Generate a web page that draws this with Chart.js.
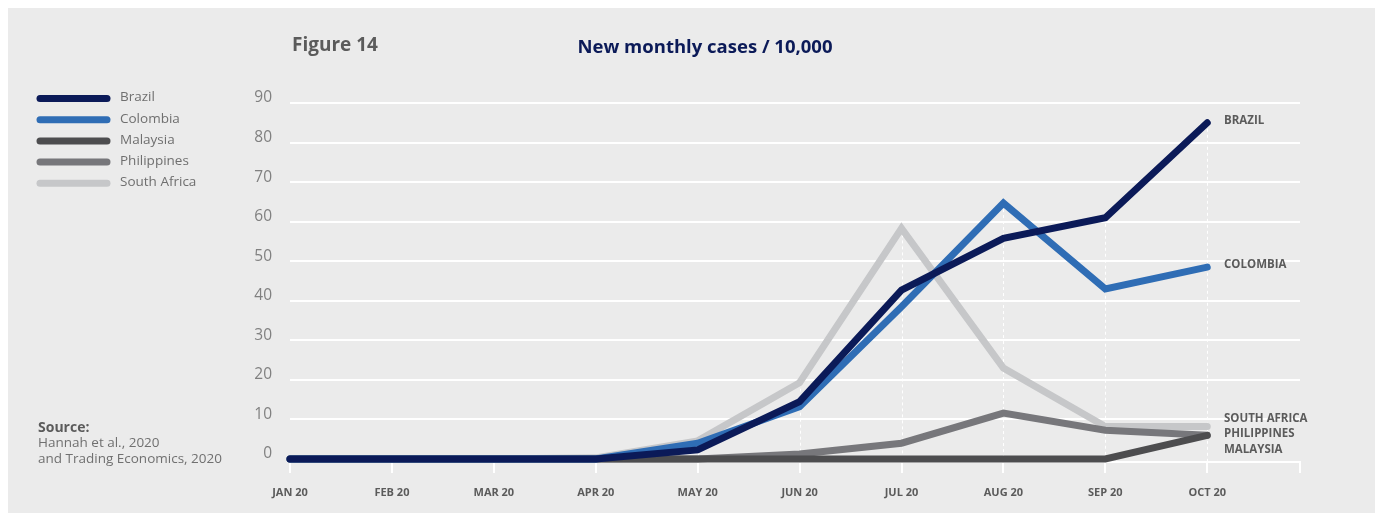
<!DOCTYPE html>
<html>
<head>
<meta charset="utf-8">
<title>New monthly cases / 10,000</title>
<script src="https://cdn.jsdelivr.net/npm/chart.js@4/dist/chart.umd.min.js"></script>
<style>
    html, body { margin: 0; padding: 0; background: #ffffff; }
    canvas { display: block; }
</style>
</head>
<body>
<canvas id="casesChart" width="1375" height="527"></canvas>
<script>
// Monthly labels and y ticks
const months = ['JAN 20', 'FEB 20', 'MAR 20', 'APR 20', 'MAY 20', 'JUN 20', 'JUL 20', 'AUG 20', 'SEP 20', 'OCT 20'];
const yTicks = [0, 10, 20, 30, 40, 50, 60, 70, 80, 90];

// New monthly cases per 10,000 inhabitants
const brazil      = [0, 0, 0, 0, 2.3, 14.5, 42.7, 55.8, 61, 85];
const colombia    = [0, 0, 0, 0, 4, 13.2, 38.5, 64.7, 43, 48.5];
const malaysia    = [0, 0, 0, 0, 0, 0, 0, 0, 0, 6];
const philippines = [0, 0, 0, 0, 0, 1.3, 4, 11.6, 7.3, 6];
const southAfrica = [0, 0, 0, 0.3, 4.6, 19.3, 58.3, 23, 8.2, 8.2];

const countries = ['Brazil', 'Colombia', 'Malaysia', 'Philippines', 'South Africa'];
const colors = ['#0b1a58', '#2f6db5', '#4d4d4f', '#77777b', '#c6c7c9'];

const TEXT_GREY = '#5b5b5b';
const NAVY = '#0b1a58';

Chart.defaults.font.family = "'Open Sans', 'Noto Sans', sans-serif";

// Panel background, titles, legend and source note
const decorPlugin = {
    id: 'decor',
    beforeDraw(chart) {
        const c = chart.ctx;
        c.save();
        c.fillStyle = '#ffffff';
        c.fillRect(0, 0, chart.width, chart.height);
        c.fillStyle = '#ebebeb';
        c.fillRect(8, 8, chart.width - 8, 505);
        c.restore();
    },
    afterDraw(chart) {
        const c = chart.ctx;
        c.save();
        c.textBaseline = 'middle';

        c.fillStyle = TEXT_GREY;
        c.font = "bold 19px 'Open Sans', sans-serif";
        c.textAlign = 'left';
        c.fillText('Figure 14', 292, 46);

        c.fillStyle = NAVY;
        c.font = "bold 18.5px 'Open Sans', sans-serif";
        c.textAlign = 'center';
        c.fillText('New monthly cases / 10,000', 705, 48);

        // legend
        c.textAlign = 'left';
        chart.data.datasets.forEach((ds, i) => {
            const y = 98.5 + i * 21.2;
            c.strokeStyle = ds.borderColor;
            c.lineWidth = 7;
            c.lineCap = 'round';
            c.beginPath();
            c.moveTo(40, y);
            c.lineTo(107, y);
            c.stroke();
            c.fillStyle = '#6f6f6f';
            c.font = "13.5px 'Open Sans', sans-serif";
            c.fillText(ds.label, 120, y - 1);
        });

        // source note
        c.fillStyle = TEXT_GREY;
        c.font = "bold 14px 'Open Sans', sans-serif";
        c.fillText('Source:', 38, 428);
        c.fillStyle = '#707070';
        c.font = "13.5px 'Open Sans', sans-serif";
        c.fillText('Hannah et al., 2020', 38, 443);
        c.fillText('and Trading Economics, 2020', 38, 459);

        // end-of-line country labels
        const ys = chart.scales.y;
        const last = months.length - 1;
        c.fillStyle = TEXT_GREY;
        c.font = "bold 11.5px 'Open Sans', sans-serif";
        c.fillText('BRAZIL', 1224, ys.getPixelForValue(brazil[last]) - 2);
        c.fillText('COLOMBIA', 1224, ys.getPixelForValue(colombia[last]) - 2);
        const yLow = ys.getPixelForValue(southAfrica[last]) - 8;
        ['SOUTH AFRICA', 'PHILIPPINES', 'MALAYSIA'].forEach((t, k) => {
            c.fillText(t, 1224, yLow + k * 15.5);
        });
        c.restore();
    }
};

// Dashed drop lines from the highest point of each month down to the axis
const dropLinePlugin = {
    id: 'dropLines',
    beforeDatasetsDraw(chart) {
        const c = chart.ctx;
        const xs = chart.scales.x, ys = chart.scales.y;
        c.save();
        c.strokeStyle = '#ffffff';
        c.lineWidth = 1;
        c.setLineDash([3, 3]);
        months.forEach((m, i) => {
            const top = Math.max(...chart.data.datasets.map(d => d.data[i].y));
            const x = Math.round(xs.getPixelForValue(i)) + 0.5;
            c.beginPath();
            c.moveTo(x, ys.getPixelForValue(top));
            c.lineTo(x, chart.chartArea.bottom);
            c.stroke();
        });
        c.restore();
    }
};

const series = [brazil, colombia, malaysia, philippines, southAfrica];

new Chart(document.getElementById('casesChart'), {
    type: 'line',
    data: {
        datasets: series.map((vals, i) => ({
            label: countries[i],
            data: vals.map((v, k) => ({ x: k, y: v })),
            borderColor: colors[i],
            backgroundColor: colors[i],
            borderWidth: 7,
            borderCapStyle: 'round',
            borderJoinStyle: 'miter',
            pointRadius: 0,
            tension: 0,
            clip: false
        }))
    },
    options: {
        responsive: false,
        animation: false,
        events: [],
        layout: { padding: { left: 0, right: 75, top: 103, bottom: 0 } },
        plugins: {
            legend: { display: false },
            tooltip: { enabled: false }
        },
        scales: {
            x: {
                type: 'linear',
                min: 0,
                max: 9.91,
                afterBuildTicks(scale) {
                    scale.ticks = months.map((m, i) => ({ value: i })).concat([{ value: 9.91 }]);
                },
                afterFit(scale) { scale.height = 65; },
                grid: {
                    drawOnChartArea: false,
                    drawTicks: true,
                    tickLength: 11,
                    color: '#ffffff',
                    lineWidth: 2
                },
                border: { display: true, color: '#ffffff', width: 2 },
                ticks: {
                    autoSkip: false,
                    maxRotation: 0,
                    padding: 13,
                    color: TEXT_GREY,
                    font: { size: 11, weight: 'bold' },
                    callback: (v) => months[v] || ''
                }
            },
            y: {
                min: -0.75,
                max: 90,
                afterBuildTicks(scale) {
                    scale.ticks = yTicks.map(v => ({ value: v }));
                },
                afterFit(scale) { scale.width = 290; },
                grid: {
                    drawTicks: false,
                    color: (ctx) => ctx.tick && ctx.tick.value === 0 ? 'rgba(0,0,0,0)' : '#ffffff',
                    lineWidth: 2
                },
                border: { display: false },
                ticks: {
                    padding: 18,
                    labelOffset: -5,
                    color: '#808080',
                    font: { size: 15.5, weight: 'normal' }
                }
            }
        }
    },
    plugins: [decorPlugin, dropLinePlugin]
});
</script>
</body>
</html>
